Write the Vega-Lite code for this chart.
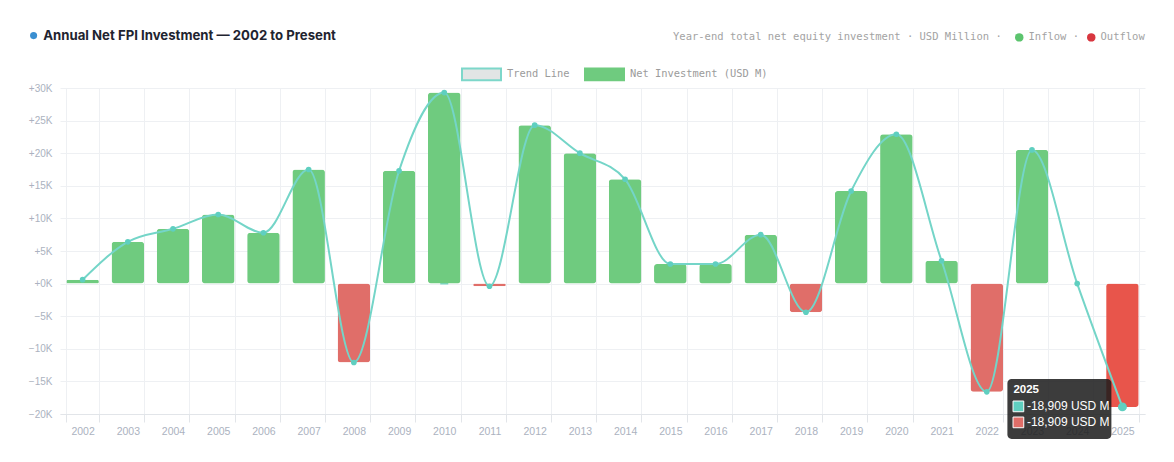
{
  "$schema": "https://vega.github.io/schema/vega-lite/v6.json",
  "width": 1174,
  "height": 462,
  "autosize": {"type": "fit", "contains": "padding"},
  "padding": {"left": 28, "top": 83, "right": 29, "bottom": 25},
  "background": "white",
  "config": {"view": {"stroke": null}, "font": "Liberation Sans"},
  "datasets": {
    "fpi": [
      {"year": "2002", "value": 600},
      {"year": "2003", "value": 6400},
      {"year": "2004", "value": 8400},
      {"year": "2005", "value": 10600},
      {"year": "2006", "value": 7800},
      {"year": "2007", "value": 17500},
      {"year": "2008", "value": -12100},
      {"year": "2009", "value": 17300},
      {"year": "2010", "value": 29300},
      {"year": "2011", "value": -400},
      {"year": "2012", "value": 24300},
      {"year": "2013", "value": 20000},
      {"year": "2014", "value": 16000},
      {"year": "2015", "value": 3000},
      {"year": "2016", "value": 3000},
      {"year": "2017", "value": 7500},
      {"year": "2018", "value": -4400},
      {"year": "2019", "value": 14200},
      {"year": "2020", "value": 22900},
      {"year": "2021", "value": 3500},
      {"year": "2022", "value": -16600},
      {"year": "2023", "value": 20500},
      {"year": "2024", "value": 0},
      {"year": "2025", "value": -18909}
    ],
    "tip": [
      {"year": "2025", "value": -18909, "label": "-18,909 USD M"}
    ]
  },
  "encoding": {
    "x": {
      "field": "year",
      "type": "ordinal",
      "scale": {"paddingInner": 0.28, "paddingOuter": 0.14},
      "axis": {
        "title": null,
        "labelAngle": 0,
        "tickBand": "extent",
        "grid": true,
        "gridColor": "#eef0f3",
        "domainColor": "#e2e5e9",
        "tickColor": "#e2e5e9",
        "tickSize": 8,
        "labelPadding": 4,
        "labelColor": "#abb2c0",
        "labelFont": "Liberation Sans",
        "labelFontSize": 10.5
      }
    },
    "y": {
      "field": "value",
      "type": "quantitative",
      "scale": {"domain": [-20000, 30000], "nice": false, "zero": false},
      "axis": {
        "title": null,
        "values": [-20000, -15000, -10000, -5000, 0, 5000, 10000, 15000, 20000, 25000, 30000],
        "labelExpr": "(datum.value >= 0 ? '+' : '') + format(datum.value / 1000, 'd') + 'K'",
        "grid": true,
        "gridColor": "#eef0f3",
        "domain": false,
        "ticks": false,
        "labelPadding": 8,
        "labelColor": "#abb2c0",
        "labelFont": "Liberation Sans",
        "labelFontSize": 10
      }
    }
  },
  "layer": [
    {
      "data": {"values": [
        {"year": "2010", "value": 5000, "k": "Trend Line"},
        {"year": "2010", "value": 5000, "k": "Net Investment (USD M)"}
      ]},
      "mark": {"type": "bar", "width": 6, "strokeWidth": 2},
      "encoding": {
        "fill": {
          "field": "k", "type": "nominal",
          "scale": {"domain": ["Trend Line", "Net Investment (USD M)"], "range": ["#e2e5e5", "#6fcb7f"]},
          "legend": {
            "orient": "none", "legendX": 401, "legendY": -34.5, "direction": "horizontal",
            "title": null,
            "symbolType": "M-1,-0.3H1V0.3H-1Z", "symbolSize": 1521, "symbolStrokeWidth": 2,
            "labelFont": "DejaVu Sans Mono", "labelFontSize": 10.4, "labelColor": "#9b9b9b",
            "labelOffset": 5, "columnPadding": 11
          }
        },
        "stroke": {
          "field": "k", "type": "nominal",
          "scale": {"domain": ["Trend Line", "Net Investment (USD M)"], "range": ["#7dd7ca", "#6fcb7f"]},
          "legend": {
            "orient": "none", "legendX": 401, "legendY": -34.5, "direction": "horizontal",
            "title": null,
            "symbolType": "M-1,-0.3H1V0.3H-1Z", "symbolSize": 1521, "symbolStrokeWidth": 2,
            "labelFont": "DejaVu Sans Mono", "labelFontSize": 10.4, "labelColor": "#9b9b9b",
            "labelOffset": 5, "columnPadding": 11
          }
        }
      }
    },
    {
      "data": {"values": [
        {"year": "2010", "value": 5000, "f": "Inflow ·"},
        {"year": "2010", "value": 5000, "f": "Outflow"}
      ]},
      "mark": {"type": "point", "filled": true, "opacity": 1, "size": 8},
      "encoding": {
        "color": {
          "field": "f", "type": "nominal",
          "scale": {"domain": ["Inflow ·", "Outflow"], "range": ["#5cc46e", "#d8363f"]},
          "legend": {
            "orient": "none", "legendX": 613, "legendY": -56, "direction": "horizontal",
            "title": "Year-end total net equity investment · USD Million ·",
            "titleOrient": "left", "titleAngle": 0, "titleLimit": 0,
            "titleFont": "DejaVu Sans Mono", "titleFontSize": 10.5, "titleFontWeight": "normal",
            "titleColor": "#a3a3a3", "titlePadding": 12, "titleBaseline": "middle",
            "symbolType": "circle", "symbolSize": 72,
            "labelFont": "DejaVu Sans Mono", "labelFontSize": 10.5, "labelColor": "#a3a3a3",
            "labelOffset": 4, "columnPadding": 6
          }
        }
      }
    },
    {
      "data": {"values": [
        {"year": "2010", "value": 5000, "t": "Annual Net FPI Investment — 2002 to Present"}
      ]},
      "mark": {"type": "point", "filled": true, "opacity": 1, "size": 8, "color": "#3a8fd1", "fill": "#3a8fd1"},
      "encoding": {
        "shape": {
          "field": "t", "type": "nominal",
          "scale": {"range": ["circle"]},
          "legend": {
            "orient": "none", "legendX": -33, "legendY": -59,
            "title": null,
            "symbolType": "circle", "symbolSize": 50, "symbolFillColor": "#3a8fd1", "symbolStrokeWidth": 0,
            "labelFont": "Inter", "labelFontSize": 13.2, "labelFontWeight": "bold", "labelColor": "#1f2430",
            "labelOffset": 3, "labelLimit": 0
          }
        }
      }
    },
    {
      "data": {"name": "fpi"},
      "mark": {"type": "bar", "cornerRadius": 3},
      "encoding": {
        "fill": {
          "condition": [
            {"test": "datum.year === '2025'", "value": "#e8554b"},
            {"test": "datum.value < 0", "value": "#e06e69"}
          ],
          "value": "#6fcb7f"
        }
      }
    },
    {
      "data": {"name": "fpi"},
      "mark": {"type": "line", "interpolate": "monotone", "color": "#74d5c8", "strokeWidth": 2}
    },
    {
      "data": {"name": "fpi"},
      "mark": {"type": "point", "filled": true, "opacity": 1, "color": "#5fcfc0"},
      "encoding": {
        "size": {"condition": {"test": "datum.year === '2025'", "value": 80}, "value": 32}
      }
    },
    {
      "data": {"name": "tip"},
      "mark": {
        "type": "point", "filled": true, "opacity": 0.86, "fill": "#1c1c1c", "strokeWidth": 0,
        "shape": "M-0.92,-0.577H0.92A0.08,0.08 0 0 1 1,-0.497V0.497A0.08,0.08 0 0 1 0.92,0.577H-0.92A0.08,0.08 0 0 1 -1,0.497V-0.497A0.08,0.08 0 0 1 -0.92,-0.577Z",
        "size": 10816, "xOffset": -63, "yOffset": 2
      }
    },
    {
      "data": {"name": "tip"},
      "mark": {"type": "text", "align": "left", "baseline": "middle", "dx": -109, "dy": -17, "color": "white", "fontWeight": "bold", "fontSize": 11.5, "font": "Liberation Sans"},
      "encoding": {
        "text": {"field": "year"}
      }
    },
    {
      "data": {"name": "tip"},
      "mark": {"type": "point", "shape": "square", "filled": true, "opacity": 1, "size": 115, "fill": "#5fcfc0", "stroke": "white", "strokeWidth": 1, "xOffset": -104, "yOffset": -0.5}
    },
    {
      "data": {"name": "tip"},
      "mark": {"type": "point", "shape": "square", "filled": true, "opacity": 1, "size": 115, "fill": "#e06e69", "stroke": "white", "strokeWidth": 1, "xOffset": -104, "yOffset": 15.5}
    },
    {
      "data": {"name": "tip"},
      "mark": {"type": "text", "align": "left", "baseline": "middle", "dx": -95.5, "dy": -0.5, "color": "white", "fontSize": 12, "font": "Liberation Sans"},
      "encoding": {
        "text": {"field": "label"}
      }
    },
    {
      "data": {"name": "tip"},
      "mark": {"type": "text", "align": "left", "baseline": "middle", "dx": -95.5, "dy": 15.5, "color": "white", "fontSize": 12, "font": "Liberation Sans"},
      "encoding": {
        "text": {"field": "label"}
      }
    }
  ]
}
